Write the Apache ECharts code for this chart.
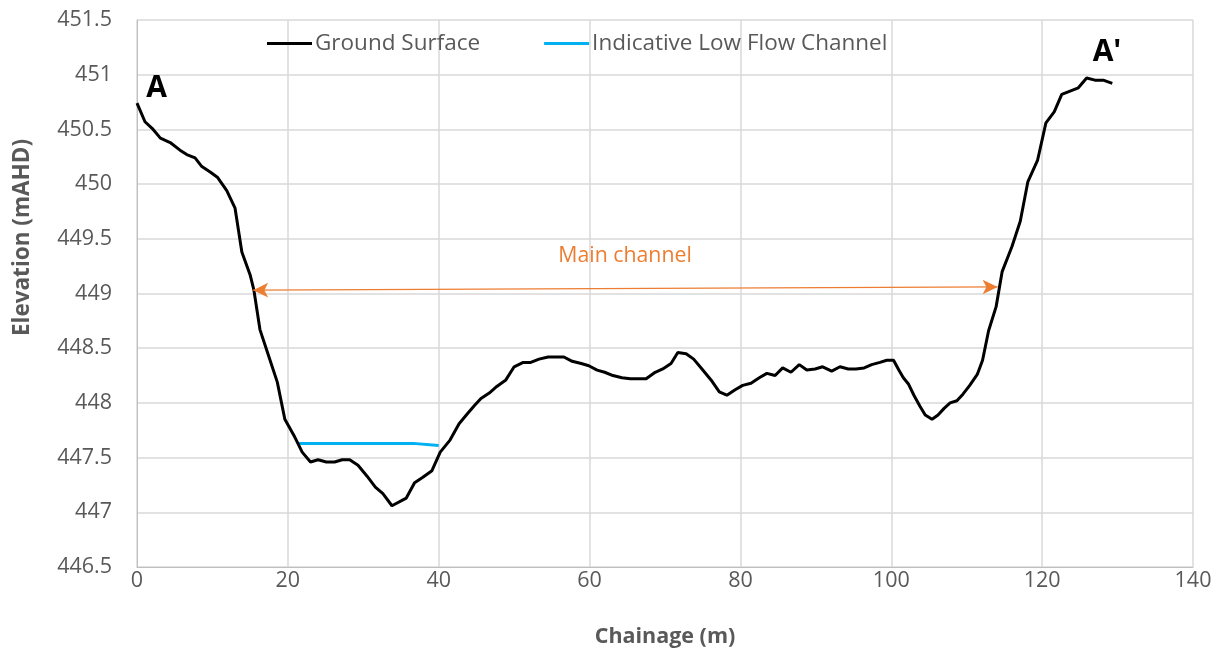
<!DOCTYPE html>
<html>
<head>
<meta charset="utf-8">
<script src="https://cdn.jsdelivr.net/npm/echarts@6/dist/echarts.min.js"></script>
<style>html,body{margin:0;padding:0;background:#fff}#c{width:1224px;height:655px}</style>
</head>
<body>
<div id="c"></div>
<script>
var chainage = [0,1.06,2.0,3.1,4.4,5.7,6.6,7.7,8.6,9.7,10.7,11.9,13.0,13.9,15.0,15.5,16.3,17.4,18.6,19.6,20.9,21.9,23.0,24.0,25.1,26.2,27.2,28.2,29.3,30.5,31.6,32.6,33.8,35.7,36.8,37.9,39.1,40.2,41.5,42.7,43.8,44.8,45.6,46.7,47.7,48.9,50.0,51.2,52.2,53.3,54.5,55.5,56.6,57.7,58.9,59.9,61.0,62.0,63.1,64.3,65.4,66.4,67.5,68.7,69.7,70.8,71.7,72.8,73.8,74.9,76.1,77.2,78.2,79.3,80.3,81.4,82.5,83.5,84.6,85.6,86.7,87.8,88.8,89.9,90.9,92.1,93.2,94.3,95.3,96.4,97.4,98.5,99.4,100.3,101.0,101.6,102.3,103.0,103.8,104.5,105.4,106.2,107.0,107.8,108.7,109.5,110.4,111.4,112.1,112.9,113.9,114.7,116.0,117.1,118.1,119.4,120.5,121.6,122.6,123.7,124.8,125.9,127.0,128.1,129.3];
var elevation = [450.74,450.57,450.51,450.42,450.38,450.31,450.27,450.24,450.16,450.11,450.06,449.94,449.78,449.38,449.17,449.03,448.67,448.44,448.19,447.85,447.69,447.55,447.46,447.48,447.46,447.46,447.48,447.48,447.43,447.33,447.23,447.17,447.06,447.13,447.27,447.32,447.38,447.55,447.66,447.81,447.90,447.98,448.04,448.09,448.15,448.21,448.33,448.37,448.37,448.40,448.42,448.42,448.42,448.38,448.36,448.34,448.30,448.28,448.25,448.23,448.22,448.22,448.22,448.28,448.31,448.36,448.46,448.45,448.40,448.31,448.21,448.10,448.07,448.12,448.16,448.18,448.23,448.27,448.25,448.32,448.28,448.35,448.30,448.31,448.33,448.29,448.33,448.31,448.31,448.32,448.35,448.37,448.39,448.39,448.30,448.23,448.17,448.07,447.97,447.89,447.85,447.89,447.95,448.00,448.02,448.08,448.16,448.26,448.39,448.66,448.88,449.20,449.43,449.66,450.02,450.22,450.56,450.66,450.82,450.85,450.88,450.97,450.95,450.95,450.92];
var lowFlowChainage = [21.3, 36.6, 40.0];
var lowFlowElevation = [447.63, 447.63, 447.61];
var mainChannelStart = [15.4, 449.03];
var mainChannelEnd = [114.1, 449.06];
var mainChannelLabelPos = [64.7, 449.34];
var labelA = [2.6, 450.87];
var labelA2 = [128.6, 451.2];

function zip(a, b) { return a.map(function (v, i) { return [v, b[i]]; }); }

var FONT = 'Open Sans';
var chart = echarts.init(document.getElementById('c'), null, { renderer: 'canvas' });
chart.setOption({
  animation: false,
  backgroundColor: '#ffffff',
  textStyle: { fontFamily: FONT },
  grid: { left: 137, right: 31, top: 20, bottom: 88, containLabel: false },
  legend: {
    top: 27, left: 262, itemWidth: 45, itemHeight: 3, itemGap: 64,
    textStyle: { fontFamily: FONT, fontSize: 22.5, color: '#595959', padding: [0, 0, 0, -2] },
    data: [
      { name: 'Ground Surface', icon: 'rect', itemStyle: { color: '#000000' } },
      { name: 'Indicative Low Flow Channel', icon: 'rect', itemStyle: { color: '#00B0F0' } }
    ]
  },
  xAxis: {
    type: 'value', min: 0, max: 140, interval: 20,
    name: 'Chainage (m)', nameLocation: 'middle', nameGap: 59,
    nameTextStyle: { fontFamily: FONT, fontSize: 21.5, fontWeight: 'bold', color: '#595959' },
    axisLine: { show: true, lineStyle: { color: '#bfbfbf', width: 1 } },
    axisTick: { show: false },
    axisLabel: { fontFamily: FONT, fontSize: 21.5, color: '#595959', margin: 3 },
    splitLine: { show: true, lineStyle: { color: '#d9d9d9', width: 1.5 } }
  },
  yAxis: {
    type: 'value', min: 446.5, max: 451.5, interval: 0.5,
    name: 'Elevation (mAHD)', nameLocation: 'middle', nameGap: 103,
    nameTextStyle: { fontFamily: FONT, fontSize: 22.5, fontWeight: 'bold', color: '#595959', padding: [0, 0, 0, 112] },
    axisLine: { show: true, lineStyle: { color: '#bfbfbf', width: 1 } },
    axisTick: { show: false },
    axisLabel: { fontFamily: FONT, fontSize: 21.5, color: '#595959', margin: 25 },
    splitLine: { show: true, lineStyle: { color: '#d9d9d9', width: 1.5 } }
  },
  series: [
    {
      name: 'Ground Surface', type: 'line', symbol: 'none', smooth: false,
      data: zip(chainage, elevation),
      lineStyle: { color: '#000000', width: 3 },
      itemStyle: { color: '#000000' },
      z: 3,
      markLine: {
        silent: true, symbol: ['arrow', 'arrow'], symbolSize: [11, 15],
        lineStyle: { color: '#ED7D31', width: 1.2, type: 'solid' },
        label: { show: false },
        data: [[{ coord: mainChannelStart }, { coord: mainChannelEnd }]]
      },
      markPoint: {
        silent: true, symbol: 'circle', symbolSize: 0,
        data: [
          { coord: labelA, label: { show: true, formatter: 'A', fontFamily: FONT, fontSize: 30, fontWeight: 'bold', color: '#000000', position: 'inside' } },
          { coord: labelA2, label: { show: true, formatter: "A'", fontFamily: FONT, fontSize: 30, fontWeight: 'bold', color: '#000000', position: 'inside' } },
          { coord: mainChannelLabelPos, label: { show: true, formatter: 'Main channel', fontFamily: FONT, fontSize: 21.3, color: '#ED7D31', position: 'inside' } }
        ]
      }
    },
    {
      name: 'Indicative Low Flow Channel', type: 'line', symbol: 'none',
      data: zip(lowFlowChainage, lowFlowElevation),
      lineStyle: { color: '#00B0F0', width: 3 },
      itemStyle: { color: '#00B0F0' },
      z: 2
    }
  ]
});
</script>
</body>
</html>
